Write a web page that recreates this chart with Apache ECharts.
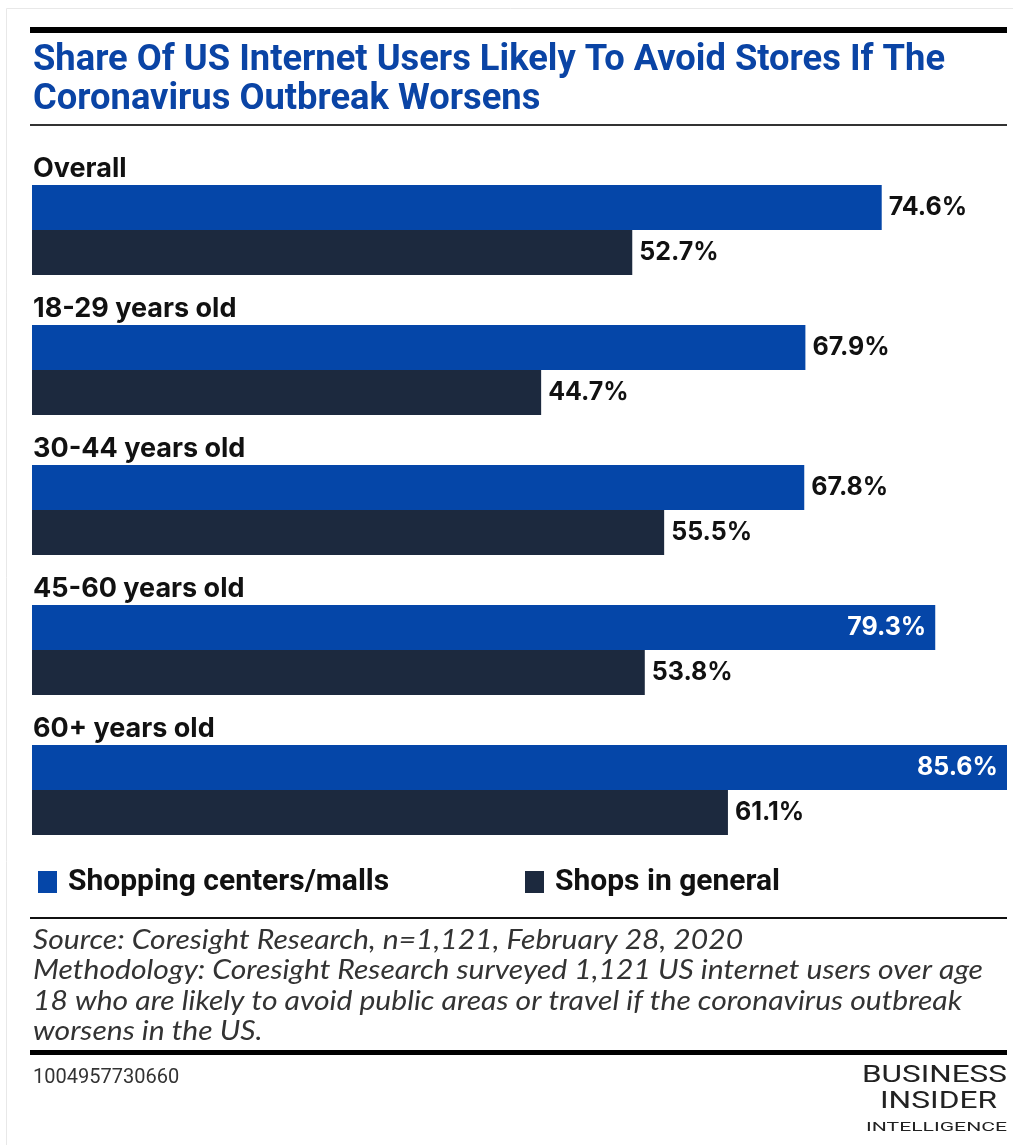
<!DOCTYPE html>
<html>
<head>
<meta charset="utf-8">
<script src="https://cdn.jsdelivr.net/npm/echarts@6/dist/echarts.min.js"></script>
<style>
  html,body{margin:0;padding:0;background:#fff;}
  #chart{width:1013px;height:1145px;}
</style>
</head>
<body>
<div id="chart"></div>
<script>
// 数据
var groups = ['Overall', '18-29 years old', '30-44 years old', '45-60 years old', '60+ years old'];
var seriesNames = ['Shopping centers/malls', 'Shops in general'];
var mallsValues = [74.6, 67.9, 67.8, 79.3, 85.6];
var shopsValues = [52.7, 44.7, 55.5, 53.8, 61.1];
var titleLines = ['Share Of US Internet Users Likely To Avoid Stores If The', 'Coronavirus Outbreak Worsens'];
var sourceLines = [
  'Source: Coresight Research, n=1,121, February 28, 2020',
  'Methodology: Coresight Research surveyed 1,121 US internet users over age',
  '18 who are likely to avoid public areas or travel if the coronavirus outbreak',
  'worsens in the US.'
];
var chartId = '1004957730660';

var BLUE = '#0546a8';
var NAVY = '#1c293e';
var TITLE_FONT = 'bold 36px Roboto, sans-serif';
var SOURCE_FONT = 'italic 27px Lato, sans-serif';
var LOGO_FONT = '400 24px Roboto, sans-serif';
var SMALL_LOGO_FONT = '400 13px Roboto, sans-serif';

// 按宽度算横向缩放
var measureCtx = document.createElement('canvas').getContext('2d');
function fitScale(text, font, width){
  measureCtx.font = font;
  return width / measureCtx.measureText(text).width;
}

// 标签放不下时放到柱子里面
function labelled(values, insideFrom){
  return values.map(function(v){
    if(v > insideFrom){
      return {value: v, label: {position: 'insideRight', color: '#fff', distance: 9}};
    }
    return v;
  });
}

var titleScale = fitScale(titleLines[0], TITLE_FONT, 912);
var sourceScale = fitScale(sourceLines[1], SOURCE_FONT, 950);

var myChart = echarts.init(document.getElementById('chart'));
var legendText = {fontFamily: 'Roboto, sans-serif', fontWeight: 'bold', fontSize: 30, color: '#111', padding: [0, 0, 0, 6]};
var option = {
  backgroundColor: '#fff',
  animation: false,
  grid: {left: 32, right: 6, top: 160, height: 700, containLabel: false},
  xAxis: {
    type: 'value', min: 0, max: 'dataMax',
    show: false
  },
  yAxis: {
    type: 'category', inverse: true, data: groups,
    axisLine: {show: false}, axisTick: {show: false}, splitLine: {show: false},
    axisLabel: {
      inside: true, margin: 1, align: 'left', verticalAlign: 'bottom',
      padding: [0, 0, 48, 0],
      fontFamily: 'Inter, sans-serif', fontWeight: 'bold', fontSize: 27, color: '#111'
    },
    z: 10
  },
  legend: [
    {data: [seriesNames[0]], left: 33, top: 862, itemWidth: 19, itemHeight: 22, icon: 'rect', textStyle: legendText},
    {data: [seriesNames[1]], left: 520, top: 862, itemWidth: 19, itemHeight: 22, icon: 'rect', textStyle: legendText}
  ],
  series: [
    {
      name: seriesNames[0], type: 'bar', barWidth: 45, barGap: '0%',
      itemStyle: {color: BLUE},
      label: {show: true, position: 'right', distance: 7, formatter: '{c}%',
              fontFamily: 'Inter, sans-serif', fontWeight: 'bold', fontSize: 25, color: '#111'},
      data: labelled(mallsValues, 78)
    },
    {
      name: seriesNames[1], type: 'bar', barWidth: 45, barGap: '0%',
      itemStyle: {color: NAVY},
      label: {show: true, position: 'right', distance: 7, formatter: '{c}%',
              fontFamily: 'Inter, sans-serif', fontWeight: 'bold', fontSize: 25, color: '#111'},
      data: shopsValues
    }
  ],
  graphic: [
    // 外框
    {type: 'rect', shape: {x: 6.5, y: 8.5, width: 1020, height: 1150}, style: {fill: 'none', stroke: '#e8e8e8', lineWidth: 1}},
    {type: 'rect', shape: {x: 30, y: 27, width: 977, height: 6}, style: {fill: '#000'}},
    {type: 'text', x: 33, y: 41, scaleX: titleScale, style: {
      x: 0, y: 0, text: titleLines.join('\n'), font: TITLE_FONT, lineHeight: 39,
      verticalAlign: 'top', fill: '#0a44a5'}},
    {type: 'rect', shape: {x: 30, y: 124, width: 977, height: 2}, style: {fill: '#333'}},
    {type: 'rect', shape: {x: 30, y: 917, width: 977, height: 2}, style: {fill: '#111'}},
    {type: 'text', x: 33, y: 925, scaleX: sourceScale, style: {
      x: 0, y: 0, text: sourceLines.join('\n'), font: SOURCE_FONT, lineHeight: 30.5,
      verticalAlign: 'top', fill: '#333'}},
    {type: 'rect', shape: {x: 30, y: 1050, width: 977, height: 5}, style: {fill: '#000'}},
    {type: 'text', left: 33, top: 1068, style: {text: chartId, font: '20px Roboto, sans-serif', fill: '#333'}},
    {type: 'text', x: 1007, y: 1064, scaleX: fitScale('BUSINESS', LOGO_FONT, 145), style: {
      x: 0, y: 0, text: 'BUSINESS', font: LOGO_FONT, align: 'right', verticalAlign: 'top', fill: '#222'}},
    {type: 'text', x: 997, y: 1090, scaleX: fitScale('INSIDER', LOGO_FONT, 117), style: {
      x: 0, y: 0, text: 'INSIDER', font: LOGO_FONT, align: 'right', verticalAlign: 'top', fill: '#222'}},
    {type: 'text', x: 1007, y: 1121, scaleX: fitScale('INTELLIGENCE', SMALL_LOGO_FONT, 141), style: {
      x: 0, y: 0, text: 'INTELLIGENCE', font: SMALL_LOGO_FONT, align: 'right', verticalAlign: 'top', fill: '#222'}}
  ]
};
myChart.setOption(option);
</script>
</body>
</html>
